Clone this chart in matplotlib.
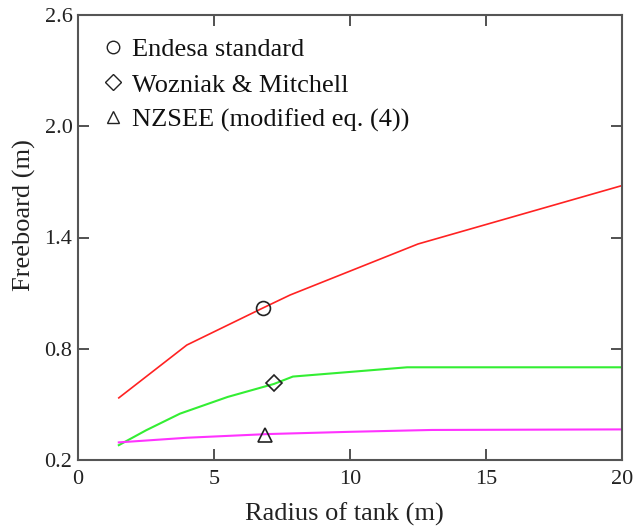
import matplotlib
matplotlib.use("Agg")
import matplotlib.pyplot as plt
from matplotlib.lines import Line2D

# Data
endesa_r = [1.5, 4.0, 6.8, 7.8, 12.5, 20.0]
endesa_f = [0.535, 0.82, 1.02, 1.09, 1.365, 1.68]

wozniak_r = [1.5, 2.5, 3.75, 5.5, 7.2, 7.9, 10.0, 12.1, 20.0]
wozniak_f = [0.28, 0.36, 0.45, 0.54, 0.61, 0.65, 0.675, 0.70, 0.70]

nzsee_r = [1.5, 4.0, 7.0, 10.0, 13.0, 20.0]
nzsee_f = [0.295, 0.32, 0.34, 0.352, 0.362, 0.365]

marker_r = [6.8, 7.2, 6.87]
marker_f = [1.02, 0.615, 0.335]

labels = ["Endesa standard", "Wozniak & Mitchell", "NZSEE (modified eq. (4))"]
xticks = [0, 5, 10, 15, 20]
yticks = [0.2, 0.8, 1.4, 2.0, 2.6]

plt.rcParams['font.family'] = ['Liberation Serif', 'DejaVu Serif']

fig = plt.figure(figsize=(6.39, 5.31), dpi=100)
ax = fig.add_axes([78/639, 1-460/531, 544/639, 445/531])

ax.plot(endesa_r, endesa_f, color='#ff2222', lw=1.2)
ax.plot(wozniak_r, wozniak_f, color='#33ee33', lw=1.5)
ax.plot(nzsee_r, nzsee_f, color='#ff33ff', lw=1.5)

ax.plot([marker_r[0]], [marker_f[0]], marker='o', ms=10, mfc='none', mec='#222222', mew=1.2, ls='none')
ax.plot([marker_r[1]], [marker_f[1]], marker='D', ms=8, mfc='none', mec='#222222', mew=1.2, ls='none')
ax.plot([marker_r[2]], [marker_f[2]], marker='^', ms=10, mfc='none', mec='#222222', mew=1.2, ls='none')

ax.set_xlim(0, 20)
ax.set_ylim(0.2, 2.6)
ax.set_xticks(xticks)
ax.set_yticks(yticks)
ax.set_xticklabels([str(v) for v in xticks])
ax.set_yticklabels([f"{v:.1f}" for v in yticks])
ax.tick_params(direction='in', length=8, width=1.2, colors='#333333', labelsize=16,
               top=True, right=True, labelcolor='#222222')
ax.tick_params(axis='x', pad=7)
ax.tick_params(axis='y', pad=4)
for s in ax.spines.values():
    s.set_color('#555555')
    s.set_linewidth(1.5)

ax.set_xlabel("Radius of tank (m)", fontsize=19, color='#222222', labelpad=10)
ax.xaxis.set_label_coords(0.489, -0.095)
ax.set_ylabel("Freeboard (m)", fontsize=19, color='#222222', labelpad=6)
ax.yaxis.label.set_y(0.55)

handles = [
    Line2D([], [], marker='o', ms=9, mfc='none', mec='#222222', mew=1.0, ls='none'),
    Line2D([], [], marker='D', ms=8, mfc='none', mec='#222222', mew=1.0, ls='none'),
    Line2D([], [], marker='^', ms=9, mfc='none', mec='#222222', mew=1.0, ls='none'),
]
leg = ax.legend(handles, labels, loc='upper left', bbox_to_anchor=(0.026, 0.972),
                frameon=False, fontsize=19, handlelength=0.8, handletextpad=0.3,
                labelspacing=0.44, borderaxespad=0.0)
for t in leg.get_texts():
    t.set_color('#111111')

fig.savefig("out.png", dpi=100)
